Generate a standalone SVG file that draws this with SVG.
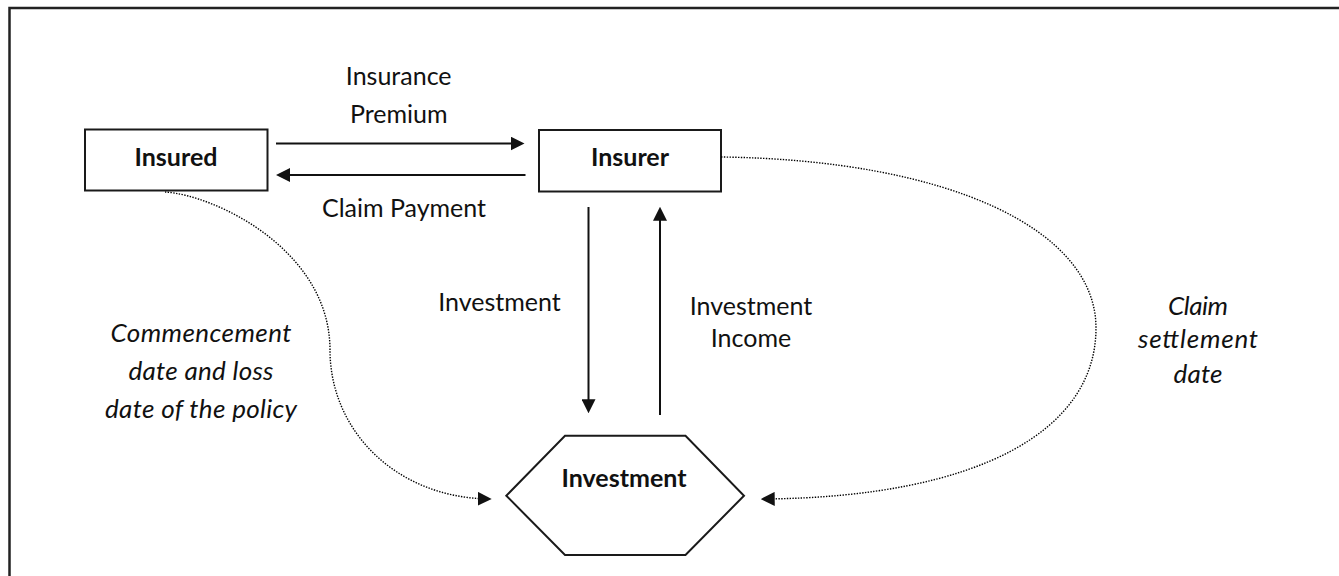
<svg xmlns="http://www.w3.org/2000/svg" width="1339" height="576" viewBox="0 0 1339 576">
  <style>
    .frame { fill: none; stroke: #222; stroke-width: 2.5; }
    .box { fill: #fff; stroke: #1a1a1a; stroke-width: 2; }
    .lbl { font-family: Lato, "Liberation Sans", sans-serif; font-size: 25px; fill: #111; text-anchor: middle; }
    .bold { font-weight: bold; }
    .ital { font-style: italic; font-size: 26px; }
    .flow { fill: none; stroke: #111; stroke-width: 2; }
    .dot { fill: none; stroke: #000; stroke-width: 1.4; stroke-dasharray: 1.4 1.4; }
  </style>
  <defs>
    <marker id="ah" viewBox="0 0 14 14" refX="10" refY="7" markerWidth="14" markerHeight="14" markerUnits="userSpaceOnUse" orient="auto">
      <path d="M0,0 L14,7 L0,14 z" fill="#111"/>
    </marker>
  </defs>

  <rect x="0" y="0" width="1339" height="576" fill="#fff"/>
  <!-- page frame: only the top and left edges fall inside the view -->
  <path class="frame" d="M9.5,600 V8 H1345"/>

  <g id="insured">
    <rect class="box" x="85" y="129.5" width="182.5" height="61"/>
    <text class="lbl bold" x="176" y="165.7">Insured</text>
  </g>

  <g id="insurer">
    <rect class="box" x="539" y="130" width="182" height="61.5"/>
    <text class="lbl bold" x="630" y="165.7">Insurer</text>
  </g>

  <g id="investment">
    <polygon class="box" points="565,435.7 685.5,435.7 744,495.7 685.5,555 565,555 506.3,495.7"/>
    <text class="lbl bold" x="624" y="487">Investment</text>
  </g>

  <g id="connectors">
    <!-- premium: insured to insurer -->
    <path class="flow" d="M276,143.5 H520.5" marker-end="url(#ah)"/>
    <!-- claim payment: insurer to insured -->
    <path class="flow" d="M525.5,175 H280" marker-end="url(#ah)"/>
    <!-- investment: insurer down to investment -->
    <path class="flow" d="M588.5,207 V409.3" marker-end="url(#ah)"/>
    <!-- investment income: investment up to insurer -->
    <path class="flow" d="M660,415 V210.7" marker-end="url(#ah)"/>
    <!-- commencement / loss date -->
    <path class="dot" d="M165,192 C215,195 330,250 330,350 C330,430 395,497 487.7,499" marker-end="url(#ah)"/>
    <!-- claim settlement date -->
    <path class="dot" d="M721,157 C950,160 1096,230 1096,328 C1096,430 980,497 764.7,499" marker-end="url(#ah)"/>
  </g>

  <g id="labels">
    <text class="lbl" x="398.7" y="85">Insurance</text>
    <text class="lbl" x="398.7" y="122.7">Premium</text>
    <text class="lbl" x="404" y="216.7">Claim Payment</text>
    <text class="lbl" x="499.4" y="311">Investment</text>
    <text class="lbl" x="751" y="315">Investment</text>
    <text class="lbl" x="751" y="347">Income</text>
    <text class="lbl ital" x="201" y="341.7" textLength="181">Commencement</text>
    <text class="lbl ital" x="201" y="380" textLength="145">date and loss</text>
    <text class="lbl ital" x="201" y="418" textLength="192">date of the policy</text>
    <text class="lbl ital" x="1198" y="315" textLength="60">Claim</text>
    <text class="lbl ital" x="1198" y="348.3" textLength="120">settlement</text>
    <text class="lbl ital" x="1198" y="382.7" textLength="49">date</text>
  </g>
</svg>
